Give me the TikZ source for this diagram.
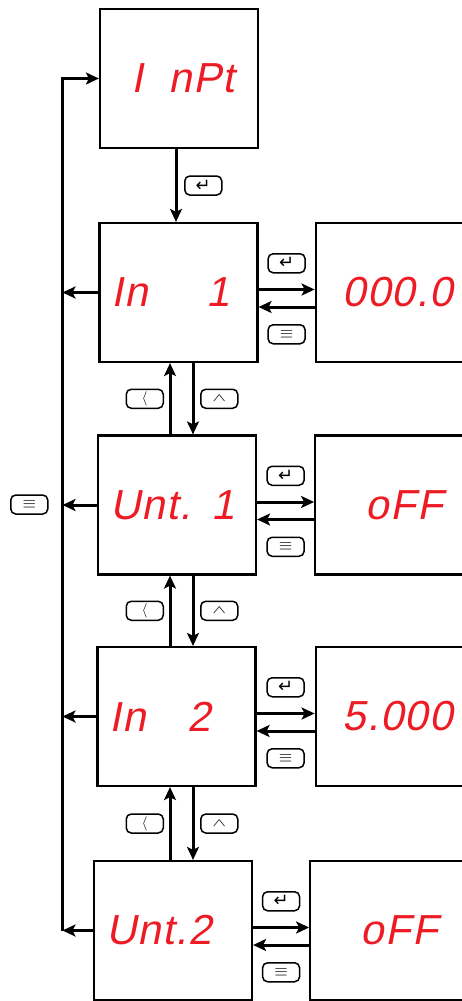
\documentclass[tikz,border=0pt]{standalone}
\usepackage{fontspec}
\usepackage{graphicx}
\usetikzlibrary{arrows.meta,positioning}
\newfontfamily\segfont[FakeSlant=0.2,LetterSpace=3]{Liberation Sans}
\newfontfamily\keyfont{DejaVu Sans}
\definecolor{segred}{RGB}{237,28,36}
\begin{document}
\begin{tikzpicture}[x=1pt,y=-1pt,
  disp/.style={draw,line width=2.2pt,minimum width=158pt,minimum height=139pt,inner sep=0pt,
    text=segred,text width=134pt,align=left,font=\segfont\fontsize{42}{42}\selectfont},
  val/.style={disp,minimum width=174pt,text width=120pt},
  key/.style={draw,rounded corners=5pt,line width=1.5pt,minimum width=37pt,minimum height=19pt,
    inner sep=0pt,font=\keyfont\fontsize{18}{18}\selectfont},
  flow/.style={line width=3pt,-{Stealth[length=13pt,width=12pt,inset=3pt]}}]
\useasboundingbox (0,0) rectangle (462,1001);
\clip (0,0) rectangle (462,1001);
\coordinate (bus) at (62.5,0);
\coordinate (topx) at (176,0);
\coordinate (upx) at (170,0);
\coordinate (dnx) at (193,0);

\node[disp,text width=110pt,align=right] (inpt) at (179,78.5) {I\hspace{.6em}nPt};
\node[disp] (in1) at (178.5,292.5) {In\hspace{1.4em}1};
\node[disp] (unt1) at (177,505) {Unt. 1};
\node[disp] (in2) at (176.5,716.5) {In\hspace{1em}2};
\node[disp] (unt2) at (173,930.5) {Unt.2};

\node[val,right=56pt of in1] (val1) {000.0};
\node[val,right=57pt of unt1] (val2) {\phantom{0}oFF};
\node[val,right=58pt of in2] (val3) {5.000};
\node[val,right=56pt of unt2] (val4) {\phantom{0}oFF};

\draw[flow] (inpt.south -| topx) -- node[key,right=8pt] (ent-inpt) {↵} (in1.north -| topx);
\draw[flow] (unt2.west -| bus) -- node[key,left=14pt] (menu) {$\equiv$} (inpt.west -| bus) -- (inpt.west);
\foreach \b in {in1,unt1,in2,unt2}
  \draw[flow] (\b.west) -- (\b.west -| bus);

\foreach \b/\v in {in1/val1,unt1/val2,in2/val3,unt2/val4}{
  \draw[flow] ([yshift=3pt]\b.east) -- node[key,above=16pt] (ent-\b) {↵} ([yshift=3pt]\b.east -| \v.west);
  \draw[flow] ([yshift=-14.5pt]\b.east -| \v.west) -- node[key,below=17pt] (esc-\b) {$\equiv$} ([yshift=-14.5pt]\b.east);
}

\foreach \u/\l in {in1/unt1,unt1/in2,in2/unt2}{
  \draw[flow] (\l.north -| upx) -- node[key,left=6pt] (prv-\l) {\fontsize{15}{15}\selectfont$\langle$} (\u.south -| upx);
  \draw[flow] (\u.south -| dnx) -- node[key,right=7pt] (nxt-\u) {\scalebox{1.2}[.65]{$\wedge$}} (\l.north -| dnx);
}
\end{tikzpicture}
\end{document}
